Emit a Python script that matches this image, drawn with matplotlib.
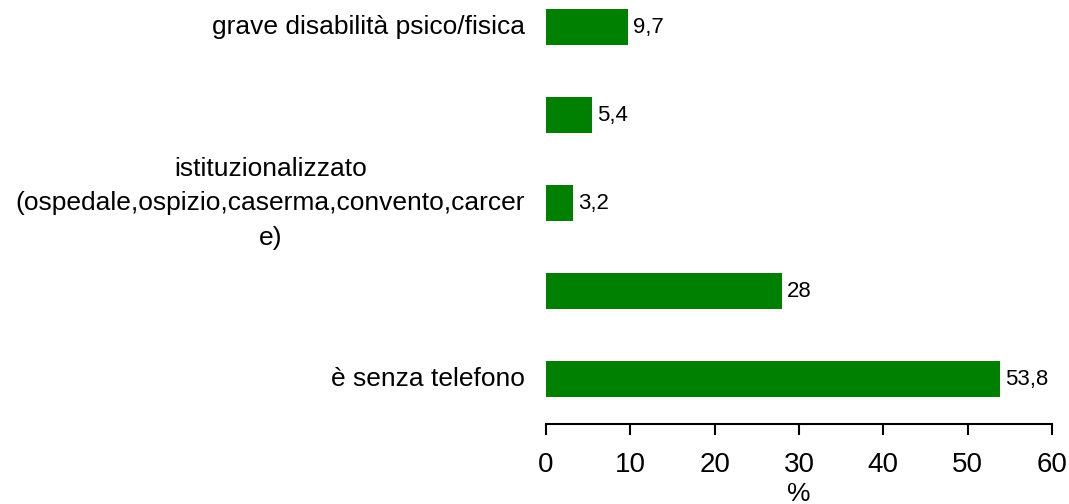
import matplotlib.pyplot as plt

plt.rcParams['font.family'] = ['Liberation Sans', 'DejaVu Sans']

categories = [
    'grave disabilità psico/fisica',
    '',
    'istituzionalizzato\n(ospedale,ospizio,caserma,convento,carcer\ne)',
    '',
    'è senza telefono',
]
values = [9.7, 5.4, 3.2, 28, 53.8]
value_labels = ['9,7', '5,4', '3,2', '28', '53,8']
xticks = [0, 10, 20, 30, 40, 50, 60]

fig = plt.figure(figsize=(10.69, 5.04), dpi=100)
ax = fig.add_axes([546 / 1069, 80 / 504, 506 / 1069, 424 / 504])

pos = list(range(len(values)))
ax.barh(pos, values, height=0.41, color='#008000')
for p, v, lab in zip(pos, values, value_labels):
    ax.text(v + 0.6, p, lab, va='center', ha='left', fontsize=16)

ax.set_ylim(4.51, -0.307)
ax.set_xlim(0, 60)
ax.set_yticks(pos)
ax.set_yticklabels(categories, fontsize=19, multialignment='center',
                   linespacing=1.55, va='center')
ax.set_xticks(xticks)
ax.set_xticklabels([str(t) for t in xticks], fontsize=20)
ax.tick_params(axis='y', length=0, pad=15)
ax.tick_params(axis='x', direction='out', length=8, width=1.5, pad=12)
ax.set_xlabel('%', fontsize=19, labelpad=3)

for side in ['top', 'right', 'left']:
    ax.spines[side].set_visible(False)
ax.spines['bottom'].set_linewidth(1.5)

fig.savefig('out.png', dpi=100)
